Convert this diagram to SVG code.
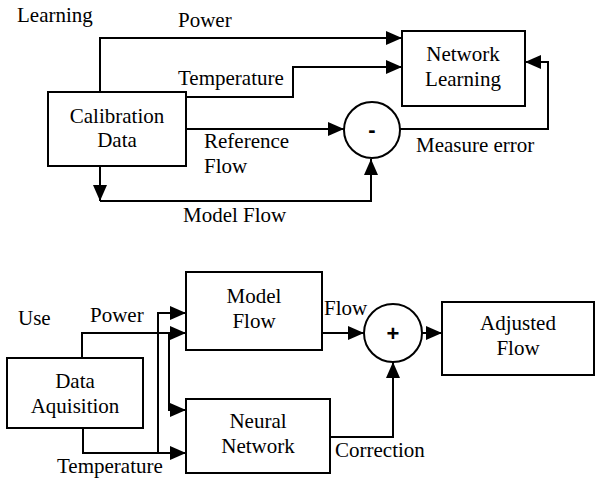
<svg xmlns="http://www.w3.org/2000/svg" width="600" height="480" viewBox="0 0 600 480" font-family="Liberation Serif, DejaVu Serif, serif">
<style>
text{font-size:21px;fill:#000}
.c{text-anchor:middle}
.box{fill:#fff;stroke:#000;stroke-width:2}
.ln{fill:none;stroke:#000;stroke-width:2}
.op{font-weight:bold;font-size:22px;text-anchor:middle}
</style>
<defs>
<marker id="ah" viewBox="0 0 16 14" refX="16" refY="7" markerWidth="16" markerHeight="14" markerUnits="userSpaceOnUse" orient="auto">
<path d="M0,0 L16,7 L0,14 z" fill="#000"/>
</marker>
</defs>
<rect width="600" height="480" fill="#fff"/>
<text x="17" y="22">Learning</text>
<text x="18" y="325">Use</text>
<g id="connectors">
<path class="ln" d="M100,92 V38 H402" marker-end="url(#ah)"/>
<path class="ln" d="M186,97 H293 V67 H402" marker-end="url(#ah)"/>
<path class="ln" d="M186,129 H344" marker-end="url(#ah)"/>
<path class="ln" d="M100,166 V201" marker-end="url(#ah)"/>
<path class="ln" d="M100,201 H371 V159" marker-end="url(#ah)"/>
<path class="ln" d="M400,129 H548 V62 H525" marker-end="url(#ah)"/>
<path class="ln" d="M82,358 V333 H186" marker-end="url(#ah)"/>
<path class="ln" d="M169,333 V410 H186" marker-end="url(#ah)"/>
<path class="ln" d="M83,428 V453 H186" marker-end="url(#ah)"/>
<path class="ln" d="M158,453 V313 H186" marker-end="url(#ah)"/>
<path class="ln" d="M322,333 H364" marker-end="url(#ah)"/>
<path class="ln" d="M422,333 H442" marker-end="url(#ah)"/>
<path class="ln" d="M330,437 H393 V362" marker-end="url(#ah)"/>
<text x="178" y="27">Power</text>
<text x="178" y="85">Temperature</text>
<text x="204" y="148">Reference</text>
<text x="204" y="173">Flow</text>
<text x="183" y="222">Model Flow</text>
<text x="416" y="152">Measure error</text>
<text x="90" y="322">Power</text>
<text x="57" y="473">Temperature</text>
<text x="324" y="315">Flow</text>
<text x="335" y="457">Correction</text>
</g>
<g id="calibration-data">
<rect class="box" x="48" y="92" width="138" height="74"/>
<text class="c" x="117" y="123">Calibration</text>
<text class="c" x="117" y="147">Data</text>
</g>
<g id="network-learning">
<rect class="box" x="402" y="31" width="123" height="75"/>
<text class="c" x="463" y="61">Network</text>
<text class="c" x="463" y="86">Learning</text>
</g>
<g id="minus">
<circle class="box" cx="372" cy="130" r="28"/>
<text class="op" x="372" y="137" font-family="Liberation Sans, Arial, sans-serif">-</text>
</g>
<g id="data-aquisition">
<rect class="box" x="7" y="358" width="136" height="70"/>
<text class="c" x="75" y="388">Data</text>
<text class="c" x="75" y="413">Aquisition</text>
</g>
<g id="model-flow">
<rect class="box" x="186" y="272" width="136" height="78"/>
<text class="c" x="254" y="303">Model</text>
<text class="c" x="254" y="328">Flow</text>
</g>
<g id="neural-network">
<rect class="box" x="186" y="399" width="144" height="74"/>
<text class="c" x="258" y="428">Neural</text>
<text class="c" x="258" y="453">Network</text>
</g>
<g id="plus">
<circle class="box" cx="393" cy="333" r="29"/>
<text class="op" x="393" y="341" font-family="Liberation Sans, Arial, sans-serif">+</text>
</g>
<g id="adjusted-flow">
<rect class="box" x="442" y="302" width="152" height="73"/>
<text class="c" x="518" y="330">Adjusted</text>
<text class="c" x="518" y="355">Flow</text>
</g>
</svg>
